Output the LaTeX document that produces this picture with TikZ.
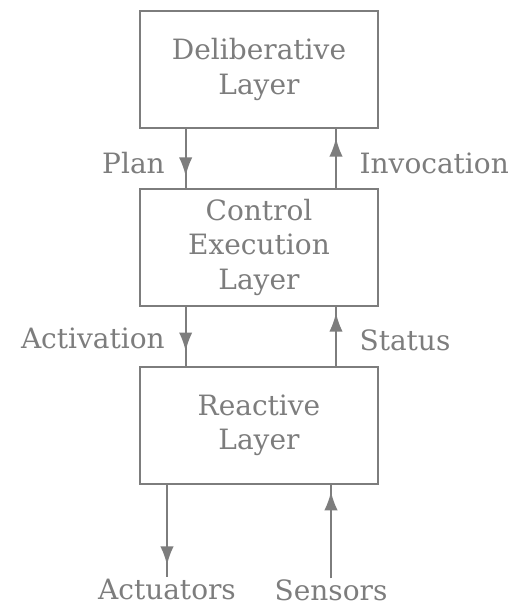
\documentclass[tikz,border=0pt]{standalone}
\usepackage{fontspec}
\setmainfont{DejaVu Serif}
\usepackage{xcolor}
\usepackage{tikz}
\usetikzlibrary{positioning,arrows.meta,decorations.markings}
\definecolor{linegray}{RGB}{125,125,125}
\tikzstyle{layer} = [rectangle, minimum width=179pt, minimum height=88pt, text width=175pt, align=center, inner sep=2pt, draw=linegray, line width=1.4pt]
\tikzstyle{signal} = [inner sep=1pt]
\tikzset{arrow/.style={line width=1.4pt, draw=linegray, postaction={decorate},
  decoration={markings, mark=at position #1 with {\arrow[linegray]{Latex[length=14pt,width=10pt]}}}}}

\begin{document}
\begin{tikzpicture}[node distance = 133.5pt, every node/.style={text=linegray}, font=\fontsize{21pt}{26pt}\selectfont]

	\node (delib) [layer] {Deliberative\\Layer};
	\node (control) [layer,below of=delib] {Control\\Execution\\Layer};
	\node (reactive) [layer,below of=control] {Reactive\\Layer};
	\useasboundingbox ([shift={(-194.25pt,52.1pt)}]delib.center) rectangle ([shift={(192pt,-403.9pt)}]delib.center);

	\node (act) [signal,below=69pt of reactive.south,xshift=-69pt] {Actuators};
	\node (sens) [signal,below=70pt of reactive.south,xshift=54pt] {Sensors};

	\draw [arrow=0.8] ([xshift=-55pt]delib.south) -- ([xshift=-55pt]control.north) node[signal,left=14pt,pos=0.58] (plan) {Plan};
	\draw [arrow=0.85] ([xshift=57.75pt]control.north) -- ([xshift=57.75pt]delib.south) node[signal,right=16pt,pos=0.42] (invoc) {Invocation};
	\draw [arrow=0.75] ([xshift=-55pt]control.south) -- ([xshift=-55pt]reactive.north) node[signal,left=14pt,pos=0.53] (activ) {Activation};
	\draw [arrow=0.9] ([xshift=57.75pt]reactive.north) -- ([xshift=57.75pt]control.south) node[signal,right=16pt,pos=0.44] (status) {Status};

	\draw [arrow=0.87] (reactive.south -| act.north) -- (act.north);
	\draw [arrow=0.93] (sens.north) -- (sens.north |- reactive.south);

\end{tikzpicture}
\end{document}
